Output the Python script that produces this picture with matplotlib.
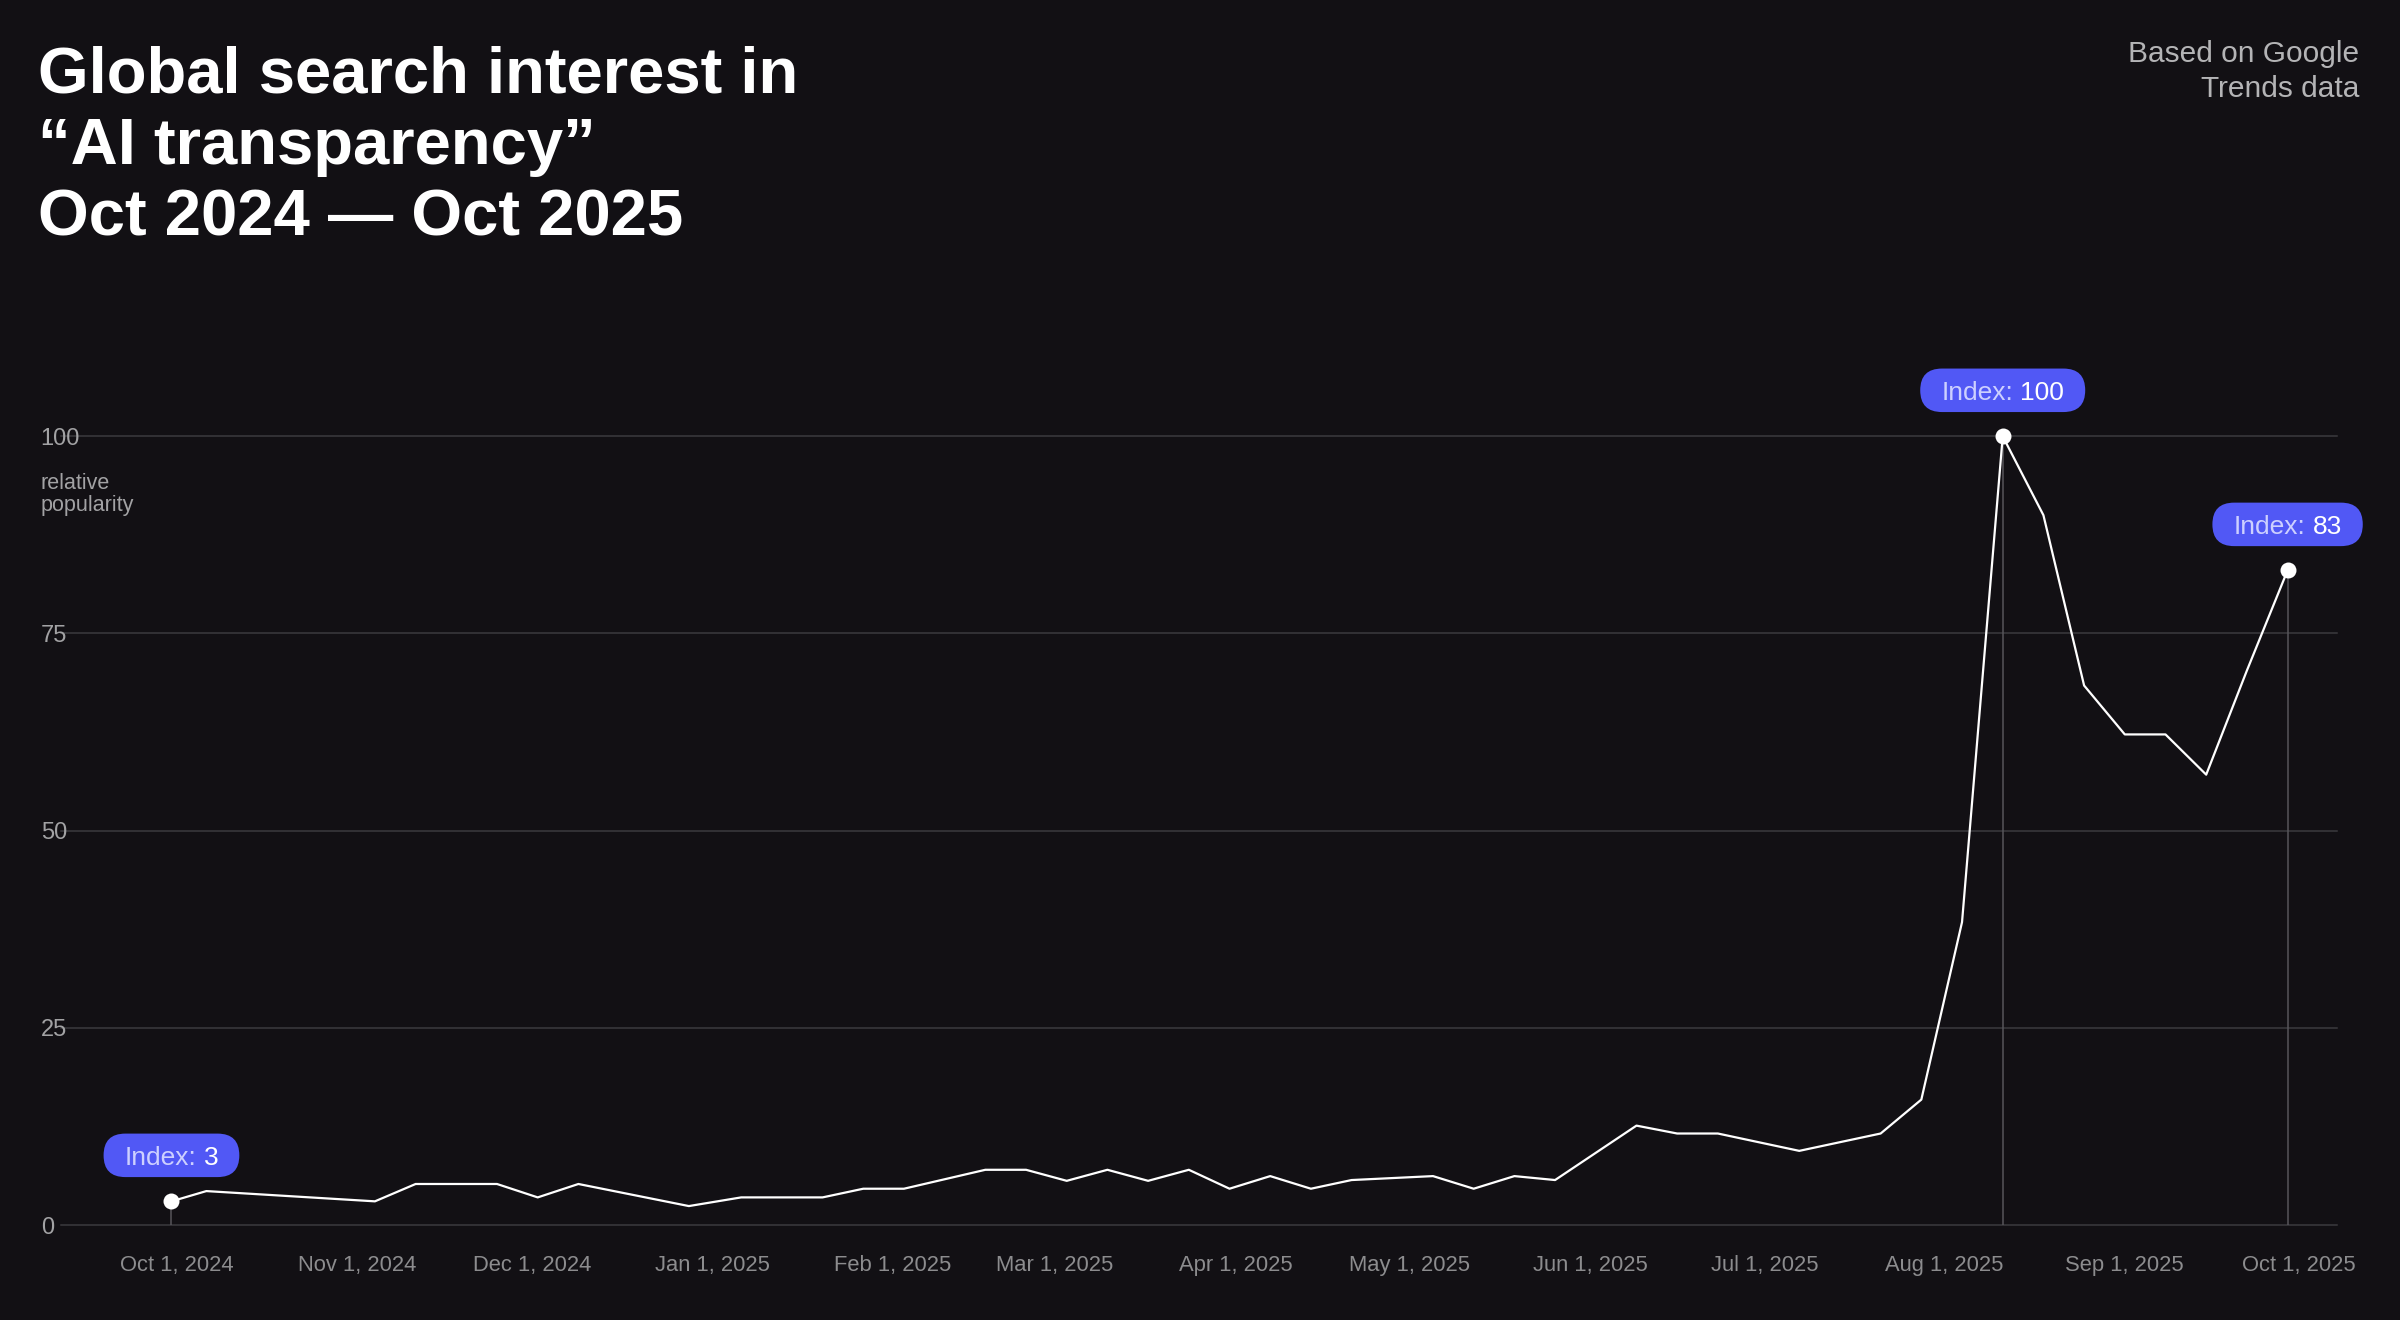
import matplotlib
matplotlib.use('Agg')
import matplotlib.pyplot as plt
import matplotlib.dates as mdates
from matplotlib.patches import FancyBboxPatch
from matplotlib.transforms import IdentityTransform
import pandas as pd

# Google Trends index for "AI transparency" (turning points of the weekly line)
week = ['2024-09-30', '2024-10-06', '2024-11-04', '2024-11-11', '2024-11-25',
        '2024-12-02', '2024-12-09', '2024-12-28', '2025-01-06', '2025-01-20',
        '2025-01-27', '2025-02-03', '2025-02-17', '2025-02-24', '2025-03-03',
        '2025-03-10', '2025-03-17', '2025-03-24', '2025-03-31', '2025-04-07',
        '2025-04-14', '2025-04-21', '2025-05-05', '2025-05-12', '2025-05-19',
        '2025-05-26', '2025-06-09', '2025-06-16', '2025-06-23', '2025-07-07',
        '2025-07-21', '2025-07-28', '2025-08-04', '2025-08-11', '2025-08-18',
        '2025-08-25', '2025-09-01', '2025-09-08', '2025-09-15', '2025-09-22',
        '2025-09-29']
interest = [3, 4.3, 3.0, 5.2, 5.2, 3.5, 5.2, 2.4, 3.5, 3.5,
            4.6, 4.6, 7.0, 7.0, 5.6, 7.0, 5.6, 7.0, 4.6, 6.2,
            4.6, 5.7, 6.2, 4.6, 6.2, 5.7, 12.6, 11.6, 11.6, 9.4,
            11.6, 15.9, 38.4, 100, 90, 68.4, 62.2, 62.2, 57.1, 70.3,
            83]

# Points with an "Index" callout
callout_week = ['2024-09-30', '2025-08-11', '2025-09-29']
callout_value = [3, 100, 83]

tick_dates = ['2024-10-01', '2024-11-01', '2024-12-01', '2025-01-01', '2025-02-01',
              '2025-03-01', '2025-04-01', '2025-05-01', '2025-06-01', '2025-07-01',
              '2025-08-01', '2025-09-01', '2025-10-01']
tick_labels = ['Oct 1, 2024', 'Nov 1, 2024', 'Dec 1, 2024', 'Jan 1, 2025', 'Feb 1, 2025',
               'Mar 1, 2025', 'Apr 1, 2025', 'May 1, 2025', 'Jun 1, 2025', 'Jul 1, 2025',
               'Aug 1, 2025', 'Sep 1, 2025', 'Oct 1, 2025']
y_ticks = [0, 25, 50, 75, 100]

# Colours
BG = '#121014'
GRID = '#3b3a3e'
DROP = '#56555a'
PILL = '#5158f5'
PILL_LABEL = '#cdd0ff'

plt.rcParams['font.family'] = ['Liberation Sans', 'DejaVu Sans']

W, H = 2400, 1320
fig = plt.figure(figsize=(W / 100, H / 100), dpi=100, facecolor=BG)

# Plot area in pixels: x 61..2337, y(100) = 436, y(0) = 1225
ax = fig.add_axes([61 / W, 1 - 1225 / H, (2337 - 61) / W, (1225 - 436.3) / H])
ax.set_facecolor(BG)
for s in ax.spines.values():
    s.set_visible(False)

x = pd.to_datetime(week)
start = pd.Timestamp('2024-09-30')
ax.set_xlim(mdates.date2num(start - pd.Timedelta(days=19.0)),
            mdates.date2num(start + pd.Timedelta(days=372.5)))
ax.set_ylim(0, 100)

# Horizontal grid
for v in y_ticks:
    ax.axhline(v, color=GRID, lw=1.1, zorder=1, clip_on=False)

# Data line
ax.plot(x, interest, color='white', lw=1.6, zorder=3, clip_on=False)

# Drop lines and markers for the callouts
cx = pd.to_datetime(callout_week)
ax.vlines(cx, 0, callout_value, color=DROP, lw=1.1, zorder=2)
ax.plot(cx, callout_value, 'o', color='white', markersize=11.5,
        markeredgewidth=0, zorder=4, clip_on=False)

# Ticks
ax.set_xticks(pd.to_datetime(tick_dates))
ax.set_xticklabels(tick_labels)
ax.tick_params(axis='x', length=0, pad=21.5, labelsize=15.8, labelcolor='#8c8c8e')
ax.set_yticks(y_ticks)
ax.set_yticklabels([str(v) for v in y_ticks], ha='left')
ax.tick_params(axis='y', length=0, pad=14.6, labelsize=17, labelcolor='#a2a2a4')

# Titles and notes
title_lines = ['Global search interest in', '\u201cAI transparency\u201d', 'Oct 2024 \u2014 Oct 2025']
for line, base in zip(title_lines, [92.7, 164.3, 235.0]):
    fig.text(38 / W, 1 - base / H, line, color='white', fontsize=47,
             fontweight='bold', va='baseline', ha='left')

fig.text(2359 / W, 1 - 61.7 / H, 'Based on Google', color='#b4b4b6', fontsize=21.5,
         ha='right', va='baseline')
fig.text(2359 / W, 1 - 97.3 / H, 'Trends data', color='#b4b4b6', fontsize=21.5,
         ha='right', va='baseline')

fig.text(40.7 / W, 1 - 488.7 / H, 'relative', color='#a2a2a4', fontsize=15.5, va='baseline')
fig.text(40.7 / W, 1 - 510.5 / H, 'popularity', color='#a2a2a4', fontsize=15.5, va='baseline')

# Pills above the marked points
renderer = fig.canvas.get_renderer()
pill_fs = 19
pill_h = 43.5
for d, v in zip(cx, callout_value):
    px, py = ax.transData.transform((mdates.date2num(d), v))
    cy = py + 46
    probe = fig.text(0, 0, f'Index: {v}', fontsize=pill_fs)
    w_full = probe.get_window_extent(renderer).width
    probe.remove()
    probe = fig.text(0, 0, f'{v}', fontsize=pill_fs)
    w_num = probe.get_window_extent(renderer).width
    probe.remove()

    pill_w = w_full + 42
    pill = FancyBboxPatch((px - pill_w / 2, cy - pill_h / 2), pill_w, pill_h,
                          boxstyle=f'round,pad=0,rounding_size={pill_h / 2}',
                          transform=IdentityTransform(), fc=PILL, ec='none', zorder=5)
    fig.add_artist(pill)

    base = cy - 0.358 * pill_fs * 100 / 72
    left = px - w_full / 2
    fig.text(left, base, 'Index:', fontsize=pill_fs, color=PILL_LABEL,
             ha='left', va='baseline', transform=IdentityTransform(), zorder=6)
    fig.text(left + w_full, base, f'{v}', fontsize=pill_fs, color='white',
             ha='right', va='baseline', transform=IdentityTransform(), zorder=6)

fig.savefig('out.png', dpi=100, facecolor=BG)
